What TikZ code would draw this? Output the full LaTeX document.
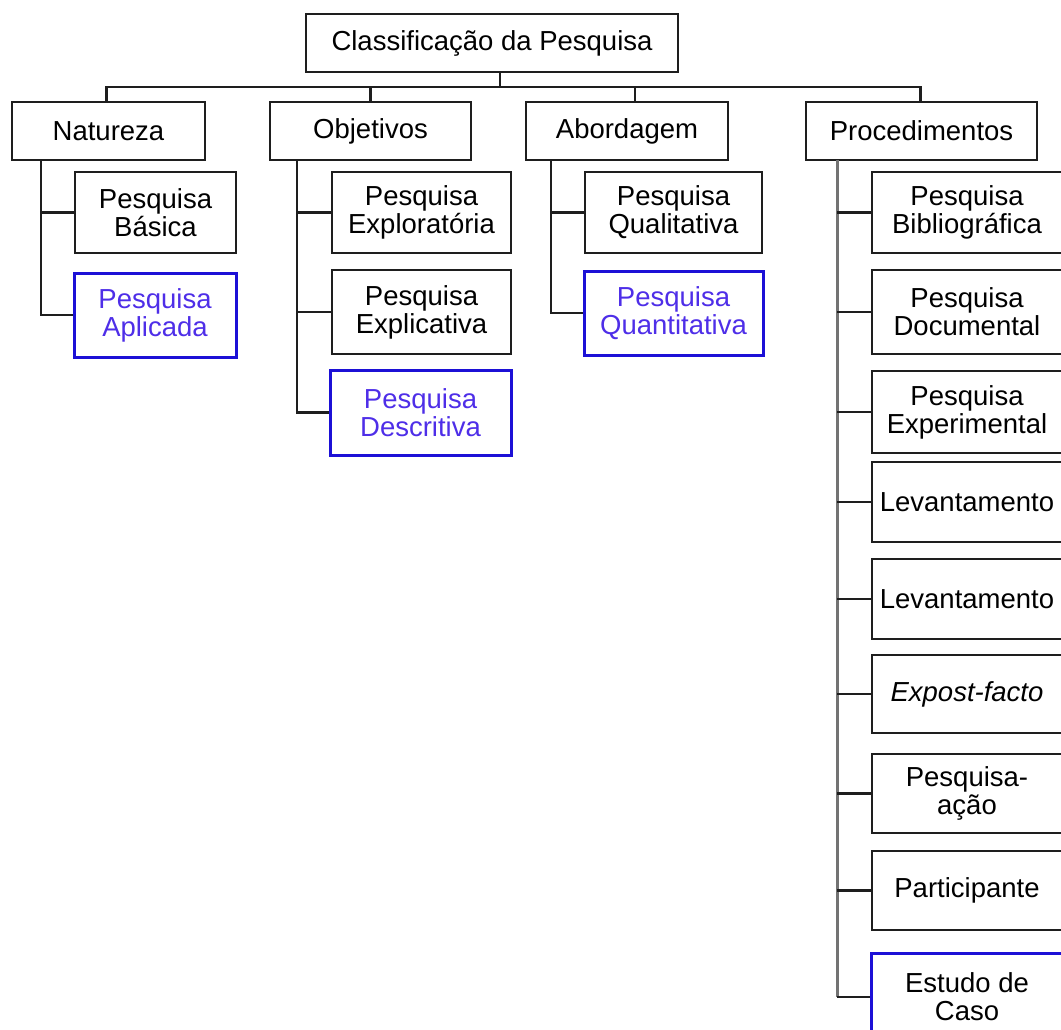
\documentclass[tikz,border=0pt]{standalone}
\usepackage{fontspec}
\setmainfont{Liberation Sans}
\usetikzlibrary{calc}
\definecolor{boxline}{RGB}{30,30,30}
\definecolor{hiline}{RGB}{28,16,214}
\definecolor{hitext}{RGB}{78,46,232}
\definecolor{trunkgray}{RGB}{115,115,115}
\begin{document}
\begin{tikzpicture}[x=1pt,y=1pt,
  font=\fontsize{27.5}{28}\selectfont,
  box/.style={draw=boxline,line width=2pt,rectangle,inner sep=0pt,align=center,text=black},
  hibox/.style={box,draw=hiline,line width=3pt,text=hitext},
  link/.style={draw=boxline,line width=2.2pt},
  trunk/.style={draw=trunkgray,line width=3pt}]
\useasboundingbox (0,0) rectangle (1061,-1030);
\clip (0,0) rectangle (1061,-1030);

% top level
\node[box,minimum width=372pt,minimum height=58pt] (root) at (492,-43) {Classificação da Pesquisa};
\node[box,minimum width=193pt,minimum height=58pt] (nat) at (108.5,-131) {Natureza};
\node[box,minimum width=201pt,minimum height=58pt] (obj) at (370.5,-131) {Objetivos};
\node[box,minimum width=202pt,minimum height=58pt] (abo) at (627,-131) {Abordagem};
\node[box,minimum width=231pt,minimum height=58pt] (proc) at (921.5,-131) {Procedimentos};

% bus joining the root to the four categories
\coordinate (bus) at (0,-87);
\draw[link] ([xshift=8pt]root.south) -- ([xshift=8pt]root.south |- bus);
\draw[link] ([xshift=-2pt]nat.north) -- ([xshift=-2pt]nat.north |- bus) -- ([xshift=-1pt]proc.north |- bus) -- ([xshift=-1pt]proc.north);
\draw[link] (obj.north) -- (obj.north |- bus);
\draw[link] ([xshift=8pt]abo.north) -- ([xshift=8pt]abo.north |- bus);

% Natureza
\node[box,minimum width=161pt,minimum height=81pt] (bas) at (155.5,-212.5) {Pesquisa\\Básica};
\node[hibox,minimum width=162pt,minimum height=84pt] (apl) at (155,-315) {Pesquisa\\Aplicada};
\coordinate (natv) at (41,-160);
\draw[link] (natv) |- (bas.west);
\draw[link] (natv) |- (apl.west);

% Objetivos
\node[box,minimum width=179pt,minimum height=81pt] (exo) at (421.5,-212.5) {Pesquisa\\Exploratória};
\node[box,minimum width=179pt,minimum height=84pt] (exa) at (421.5,-312) {Pesquisa\\Explicativa};
\node[hibox,minimum width=181pt,minimum height=85pt] (des) at (420.5,-412.5) {Pesquisa\\Descritiva};
\coordinate (objv) at (297,-160);
\draw[link] (objv) |- (exo.west);
\draw[link] (objv) |- (exa.west);
\draw[link] (objv) |- (des.west);

% Abordagem
\node[box,minimum width=177pt,minimum height=81pt] (qua) at (673.5,-212.5) {Pesquisa\\Qualitativa};
\node[hibox,minimum width=179pt,minimum height=84pt] (qnt) at (673.5,-313) {Pesquisa\\Quantitativa};
\coordinate (abov) at (551,-160);
\draw[link] (abov) |- (qua.west);
\draw[link] (abov) |- (qnt.west);

% Procedimentos
\node[box,minimum width=190pt,minimum height=81pt] (bib) at (967,-212.5) {Pesquisa\\Bibliográfica};
\node[box,minimum width=190pt,minimum height=84pt] (doc) at (967,-312) {Pesquisa\\Documental};
\node[box,minimum width=190pt,minimum height=82pt] (exp) at (967,-412) {Pesquisa\\Experimental};
\node[box,minimum width=190pt,minimum height=80pt] (lev1) at (967,-502) {Levantamento};
\node[box,minimum width=190pt,minimum height=80pt] (lev2) at (967,-599) {Levantamento};
\node[box,minimum width=190pt,minimum height=78pt] (exf) at (967,-694) {\itshape Expost-facto};
\node[box,minimum width=190pt,minimum height=79pt] (pac) at (967,-793.5) {Pesquisa-\\ação};
\node[box,minimum width=190pt,minimum height=79pt] (par) at (967,-890.5) {Participante};
\node[hibox,text=black,minimum width=192pt,minimum height=88pt] (est) at (967,-997) {Estudo de\\Caso};
\coordinate (procv) at (837,-160);
\draw[trunk] (procv) -- (procv |- est.west);
\foreach \n in {bib,doc,exp,lev1,lev2,exf,pac,par,est}
  \draw[link] (procv |- \n.west) -- (\n.west);
\end{tikzpicture}
\end{document}
